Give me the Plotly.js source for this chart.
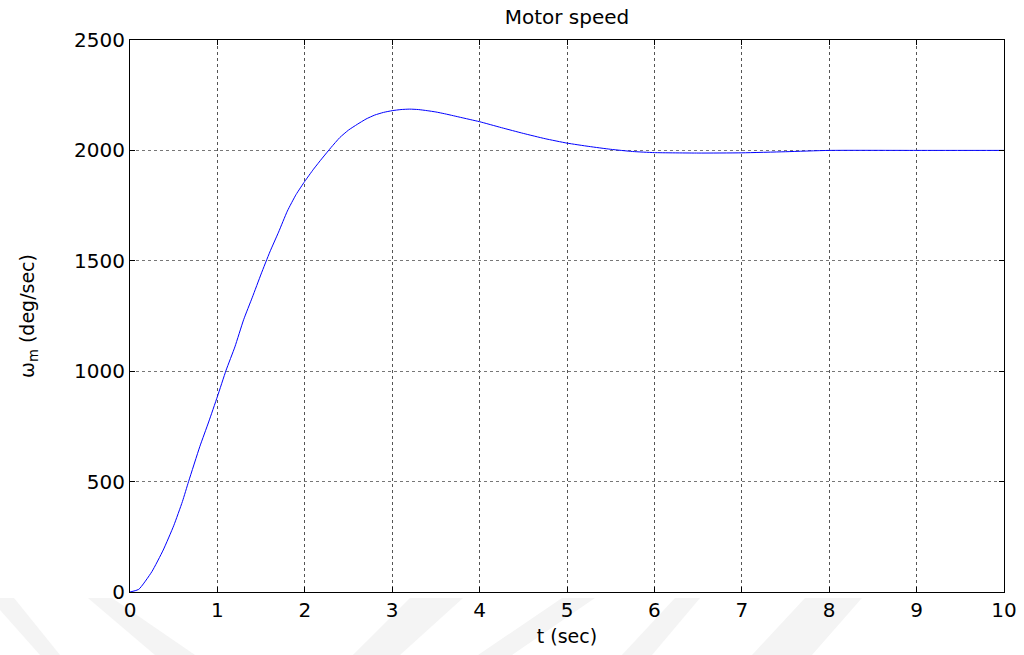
<!DOCTYPE html>
<html>
<head>
<meta charset="utf-8">
<script src="https://cdn.plot.ly/plotly-3.0.1.min.js"></script>
<style>
  html, body { margin: 0; padding: 0; background: #ffffff; }
  #chart { width: 1024px; height: 655px; }
</style>
</head>
<body>
<div id="chart"></div>
<script>
// Time (sec)
var timeSec = [0, 0.1, 0.25, 0.38, 0.5, 0.6, 0.67, 0.8, 0.9, 1.0, 1.1, 1.2, 1.3, 1.4, 1.5, 1.6, 1.7, 1.8,
  1.9, 2.0, 2.1, 2.2, 2.3, 2.4, 2.5, 2.6, 2.7, 2.8, 2.9, 3.0, 3.1, 3.2, 3.3, 3.4, 3.5, 3.6, 3.7, 3.8,
  3.9, 4.0, 4.25, 4.5, 4.75, 5.0, 5.25, 5.5, 5.75, 6.0, 6.5, 7.0, 7.5, 8.0, 9.0, 10.0];
// Motor speed (deg/sec)
var motorSpeed = [0, 12, 92, 190, 300, 410, 500, 660, 770, 885, 1005, 1110, 1233, 1335, 1440, 1540, 1630, 1725,
  1800, 1860, 1915, 1965, 2013, 2058, 2092, 2118, 2142, 2160, 2172, 2180, 2185, 2187, 2185, 2180, 2174, 2166, 2157, 2148,
  2139, 2130, 2103, 2077, 2053, 2033, 2018, 2005, 1995, 1990, 1988, 1989, 1994, 2000, 2000, 2000];

var xTicks = [0, 1, 2, 3, 4, 5, 6, 7, 8, 9, 10];
var yTicks = [0, 500, 1000, 1500, 2000, 2500];

// plot area in pixels (for the faint background watermark only)
var M = {l: 130, r: 20, t: 40, b: 63, W: 1024, H: 655};
var pw = M.W - M.l - M.r, ph = M.H - M.t - M.b;
function px(x) { return (x - M.l) / pw; }
function py(y) { return (M.H - M.b - y) / ph; }
function stripe(pts) {
  var d = pts.map(function (p, i) { return (i ? 'L' : 'M') + px(p[0]).toFixed(4) + ',' + py(p[1]).toFixed(4); }).join(' ') + ' Z';
  return {type: 'path', xref: 'paper', yref: 'paper', path: d, fillcolor: '#f4f4f4', line: {width: 0}, layer: 'below'};
}
var watermark = [
  stripe([[0, 598], [14, 598], [60, 655], [40, 655], [0, 610]]),
  stripe([[88, 598], [112, 598], [195, 655], [155, 655]]),
  stripe([[410, 598], [463, 598], [400, 655], [353, 655]]),
  stripe([[562, 598], [595, 598], [512, 655], [478, 655]]),
  stripe([[675, 598], [700, 598], [652, 655], [622, 655]]),
  stripe([[805, 598], [862, 598], [812, 655], [752, 655]])
];

var trace = {
  x: timeSec,
  y: motorSpeed,
  type: 'scatter',
  mode: 'lines',
  line: {color: '#0000ff', width: 1, shape: 'spline', smoothing: 0.5},
  hoverinfo: 'skip'
};

var axisCommon = {
  showline: true,
  linecolor: '#000000',
  linewidth: 1,
  mirror: 'ticks',
  ticks: 'inside',
  ticklen: 5,
  tickcolor: '#000000',
  tickwidth: 1,
  zeroline: false,
  showgrid: true,
  tickfont: {family: 'DejaVu Sans, Arial, sans-serif', size: 20, color: '#000000'}
};

var layout = {
  width: 1024,
  height: 655,
  margin: {l: M.l, r: M.r, t: M.t, b: M.b},
  paper_bgcolor: '#ffffff',
  plot_bgcolor: '#ffffff',
  showlegend: false,
  title: {
    text: 'Motor speed',
    font: {family: 'DejaVu Sans, Arial, sans-serif', size: 20, color: '#000000'},
    x: 0.5, xref: 'paper', xanchor: 'center',
    y: 1 - 17 / 655, yref: 'container', yanchor: 'middle'
  },
  xaxis: Object.assign({}, axisCommon, {
    range: [0, 10],
    tickmode: 'array',
    tickvals: xTicks,
    ticktext: xTicks.map(String),
    gridcolor: '#555555',
    griddash: 'dot',
    gridwidth: 1,
    title: {text: 't (sec)', font: {family: 'DejaVu Sans, Arial, sans-serif', size: 19, color: '#000000'}, standoff: 8}
  }),
  yaxis: Object.assign({}, axisCommon, {
    range: [0, 2500],
    tickmode: 'array',
    tickvals: yTicks,
    ticktext: yTicks.map(String),
    gridcolor: '#777777',
    griddash: 'dot',
    gridwidth: 1,
    title: {text: 'ω<sub>m</sub> (deg/sec)', font: {family: 'DejaVu Sans, Arial, sans-serif', size: 19, color: '#000000'}, standoff: 34}
  }),
  shapes: watermark
};

Plotly.newPlot('chart', [trace], layout, {displayModeBar: false, staticPlot: true});
</script>
</body>
</html>
